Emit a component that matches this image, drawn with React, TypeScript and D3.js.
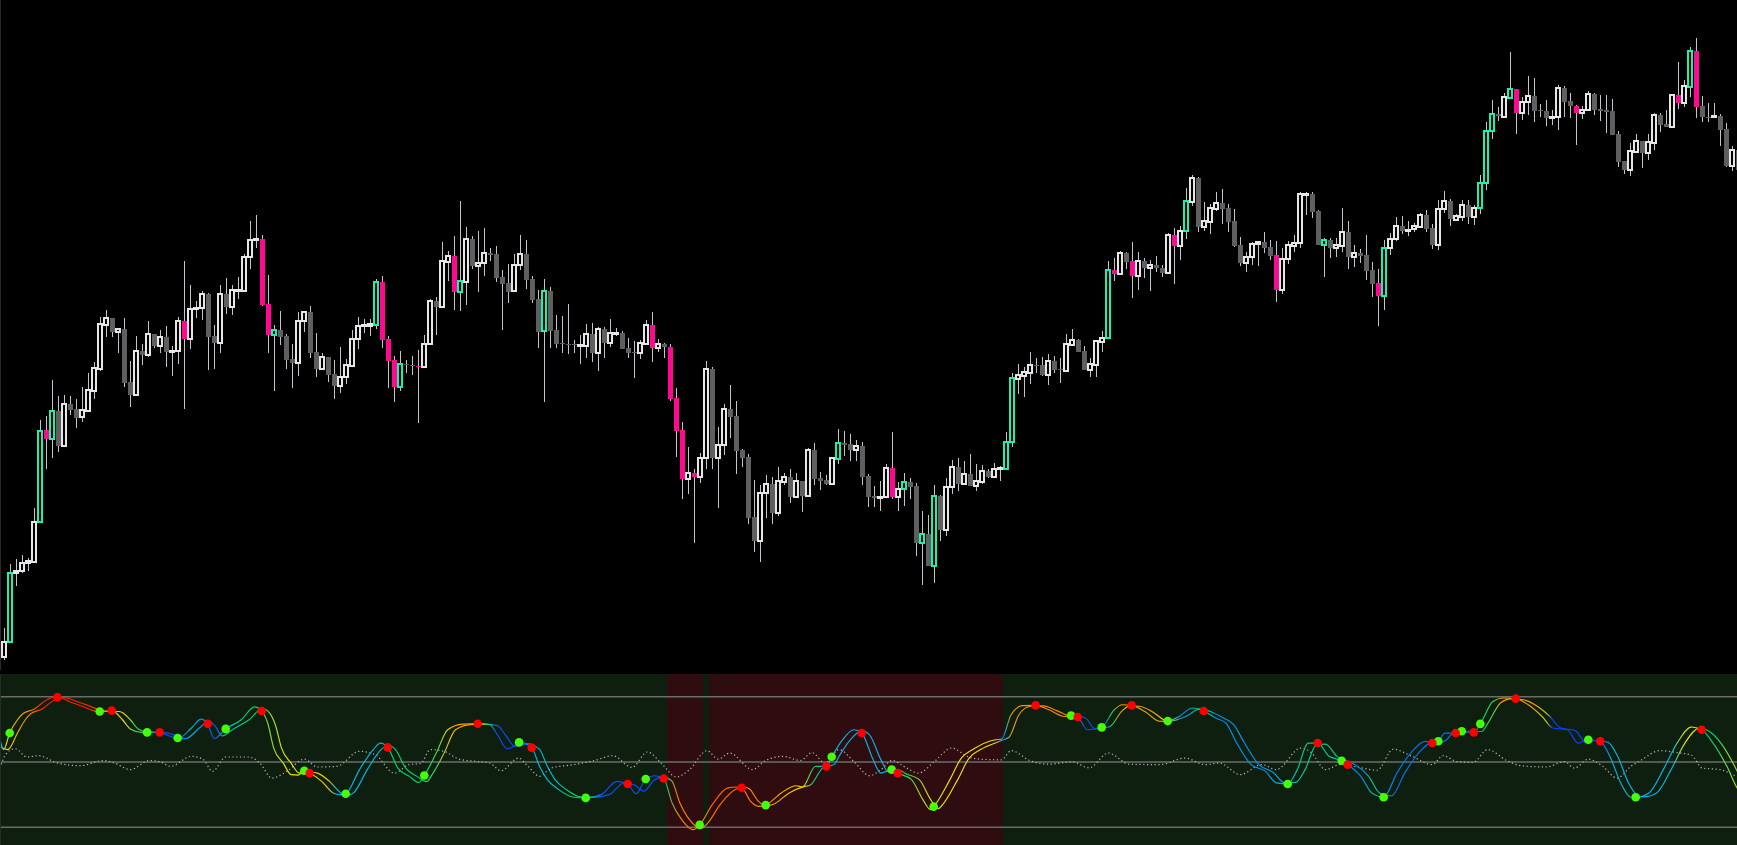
import * as d3 from "d3";

// price candles, one entry per bar (arbitrary price units)
const opens = [
  43, 58, 127, 129, 137, 138, 178, 270, 261, 289, 254, 296, 291, 283, 289, 309, 331, 375, 382, 368,
  371, 318, 305, 349, 345, 366, 354, 363, 349, 349, 379, 361, 391, 392, 406, 364, 357, 406, 393, 410,
  409, 443, 460, 461, 396, 365, 370, 364, 341, 337, 379, 388, 348, 331, 343, 326, 314, 323, 334, 361,
  374, 374, 375, 418, 361, 340, 313, 336, 335, 334, 333, 356, 399, 393, 438, 444, 408, 418, 461, 434,
  437, 447, 446, 423, 417, 409, 435, 446, 421, 401, 369, 409, 370, 357, 356, 356, 354, 354, 366, 347,
  371, 357, 366, 367, 352, 348, 347, 356, 375, 352, 356, 353, 302, 270, 221, 227, 223, 242, 331, 242,
  255, 291, 284, 250, 243, 183, 159, 207, 216, 187, 218, 223, 203, 219, 204, 250, 222, 220, 216, 241,
  257, 256, 250, 254, 224, 204, 202, 203, 232, 203, 211, 218, 214, 157, 166, 134, 204, 170, 213, 233,
  216, 226, 214, 218, 229, 223, 231, 231, 258, 321, 324, 327, 335, 335, 325, 339, 331, 329, 355, 360,
  349, 330, 335, 358, 362, 430, 426, 447, 439, 424, 439, 432, 435, 432, 427, 465, 454, 469, 498, 522,
  473, 478, 491, 497, 492, 479, 455, 437, 443, 456, 458, 453, 445, 410, 441, 454, 457, 506, 506, 489,
  455, 460, 452, 454, 468, 443, 447, 445, 430, 417, 404, 452, 461, 474, 470, 471, 473, 485, 472, 455,
  491, 499, 480, 483, 495, 483, 492, 517, 569, 586, 583, 602, 611, 587, 598, 604, 590, 589, 583, 583,
  612, 599, 594, 587, 590, 606, 591, 590, 589, 566, 539, 530, 548, 559, 547, 557, 585, 576, 573, 605,
  597, 613, 649, 594, 583, 583, 584, 571, 534, 550,
];
const highs = [
  72, 136, 141, 145, 142, 192, 280, 284, 320, 304, 305, 304, 301, 313, 327, 338, 383, 390, 382, 371,
  382, 339, 364, 356, 379, 366, 370, 374, 354, 383, 439, 415, 399, 409, 407, 375, 415, 422, 415, 423,
  446, 479, 485, 465, 425, 375, 389, 366, 356, 388, 389, 394, 367, 347, 343, 340, 353, 341, 370, 383,
  381, 381, 421, 424, 364, 344, 349, 340, 344, 350, 365, 401, 403, 458, 449, 464, 499, 473, 464, 469,
  472, 452, 454, 430, 436, 446, 465, 460, 424, 410, 421, 413, 385, 384, 396, 360, 365, 376, 377, 373,
  373, 381, 372, 369, 362, 359, 360, 380, 388, 361, 357, 356, 312, 278, 253, 231, 247, 339, 333, 273,
  296, 315, 299, 251, 246, 220, 215, 225, 223, 233, 227, 231, 227, 219, 252, 257, 228, 225, 242, 271,
  269, 266, 260, 258, 226, 214, 219, 236, 268, 218, 227, 222, 217, 189, 185, 215, 205, 222, 240, 242,
  239, 246, 236, 235, 231, 237, 234, 268, 327, 336, 333, 348, 342, 343, 346, 344, 342, 366, 371, 361,
  354, 342, 360, 369, 439, 442, 449, 448, 458, 448, 442, 440, 444, 435, 467, 472, 474, 512, 525, 523,
  498, 496, 508, 511, 496, 491, 463, 448, 458, 459, 468, 460, 459, 452, 459, 465, 508, 508, 508, 490,
  462, 462, 462, 492, 479, 455, 451, 465, 438, 431, 460, 467, 483, 484, 479, 477, 487, 490, 476, 500,
  509, 501, 486, 500, 500, 495, 525, 578, 600, 593, 607, 648, 611, 603, 624, 622, 596, 600, 590, 615,
  614, 607, 595, 594, 609, 607, 605, 605, 601, 569, 539, 557, 566, 559, 566, 587, 587, 590, 605, 638,
  620, 653, 662, 604, 597, 597, 586, 577, 554, 555,
];
const lows = [
  40, 58, 114, 127, 129, 137, 178, 231, 242, 248, 253, 285, 272, 278, 289, 301, 329, 363, 363, 347,
  313, 293, 304, 335, 343, 352, 347, 333, 324, 336, 291, 351, 382, 380, 330, 331, 347, 386, 385, 401,
  408, 431, 452, 394, 347, 309, 355, 331, 312, 324, 368, 342, 323, 330, 318, 301, 307, 316, 333, 351,
  367, 364, 371, 352, 312, 298, 309, 327, 325, 277, 332, 356, 365, 393, 419, 390, 389, 395, 431, 408,
  424, 439, 418, 370, 397, 409, 430, 411, 397, 352, 298, 352, 352, 347, 346, 347, 336, 342, 338, 329,
  342, 353, 364, 351, 342, 322, 341, 356, 338, 348, 342, 299, 243, 201, 206, 157, 217, 231, 231, 192,
  245, 262, 226, 233, 176, 148, 138, 182, 176, 184, 215, 197, 203, 188, 203, 215, 210, 215, 216, 236,
  244, 239, 239, 215, 193, 193, 189, 202, 201, 189, 194, 201, 144, 115, 134, 117, 159, 164, 206, 209,
  216, 214, 209, 216, 222, 223, 219, 231, 253, 306, 303, 316, 327, 324, 315, 327, 317, 329, 354, 348,
  330, 323, 323, 348, 361, 419, 425, 431, 402, 410, 422, 409, 428, 423, 427, 416, 440, 461, 494, 468,
  469, 466, 489, 476, 468, 453, 434, 428, 435, 434, 447, 440, 398, 406, 436, 448, 452, 485, 482, 455,
  423, 442, 443, 448, 431, 433, 437, 420, 403, 374, 390, 445, 459, 466, 464, 468, 472, 468, 451, 450,
  487, 474, 479, 479, 476, 475, 486, 510, 561, 579, 583, 602, 566, 580, 585, 578, 583, 574, 575, 570,
  583, 582, 555, 581, 589, 585, 579, 567, 565, 533, 526, 524, 548, 532, 540, 550, 568, 573, 573, 591,
  593, 603, 582, 578, 578, 582, 554, 533, 529, 525,
];
const closes = [
  58, 127, 129, 137, 139, 178, 269, 261, 289, 254, 296, 290, 282, 290, 310, 332, 376, 382, 368, 371,
  317, 305, 349, 345, 366, 354, 363, 348, 349, 379, 361, 391, 392, 406, 363, 357, 406, 393, 410, 410,
  443, 460, 461, 395, 365, 370, 363, 340, 337, 379, 388, 347, 331, 343, 325, 314, 323, 335, 361, 374,
  375, 376, 418, 360, 339, 313, 336, 335, 334, 333, 356, 399, 393, 439, 444, 408, 419, 461, 434, 437,
  447, 445, 422, 416, 408, 435, 446, 420, 400, 368, 409, 369, 356, 356, 355, 355, 355, 366, 347, 371,
  357, 367, 367, 351, 347, 347, 357, 375, 352, 356, 353, 301, 269, 221, 227, 223, 242, 331, 242, 255,
  291, 283, 249, 242, 182, 159, 207, 216, 187, 219, 223, 203, 219, 204, 250, 221, 219, 216, 242, 257,
  255, 250, 254, 223, 203, 202, 203, 232, 203, 211, 218, 213, 157, 166, 134, 204, 170, 213, 233, 216,
  226, 214, 219, 229, 223, 231, 232, 258, 322, 325, 328, 335, 334, 325, 339, 330, 330, 356, 360, 348,
  330, 336, 359, 362, 430, 426, 447, 438, 424, 439, 432, 435, 432, 427, 465, 454, 469, 499, 522, 473,
  479, 492, 497, 491, 478, 454, 437, 443, 456, 458, 452, 444, 410, 441, 455, 457, 506, 506, 488, 455,
  460, 452, 455, 468, 443, 447, 444, 429, 416, 404, 452, 461, 474, 469, 470, 474, 485, 471, 455, 491,
  499, 481, 484, 495, 483, 492, 517, 569, 586, 584, 603, 611, 587, 598, 604, 589, 589, 582, 583, 612,
  598, 594, 587, 590, 606, 590, 589, 588, 565, 538, 530, 549, 559, 547, 558, 585, 575, 573, 605, 597,
  614, 649, 593, 583, 582, 584, 570, 534, 550, 530,
];
const strongUp = [1, 6, 8, 45, 62, 66, 76, 90, 139, 150, 153, 155, 167, 168, 184, 197, 220, 230, 246, 247, 248, 251, 281];
const strongDown = [7, 30, 43, 44, 63, 64, 65, 69, 75, 108, 111, 112, 113, 115, 148, 185, 188, 195, 212, 229, 252, 262, 279, 282];

// bars where the oscillator pane is shaded red
const bearishRuns = [[111, 116], [118, 166]];

// oscillator, [bar index, value]
const oscLevels = [20, 50, 80];
const fastLine = [
  [-0.7, 60.2], [-0.1, 55.7], [0.9, 63.3], [2.2, 69.4], [3.1, 72.2], [5.0, 74.3], [6.9, 78.3], [8.7, 80.0],
  [10.8, 77.8], [13.3, 75.3], [15.5, 73.2], [17.9, 73.6], [19.7, 69.4], [21.0, 65.2], [22.9, 63.6], [25.4, 63.8],
  [27.3, 62.2], [28.9, 60.7], [31.2, 65.6], [32.8, 69.7], [33.9, 67.4], [35.0, 60.7], [36.9, 65.2], [39.5, 69.4],
  [41.7, 75.3], [42.9, 73.4], [43.9, 67.9], [44.9, 56.4], [46.5, 49.5], [47.8, 44.2], [49.0, 44.0], [50.0, 46.0],
  [50.9, 44.9], [52.9, 41.1], [54.8, 35.8], [56.0, 35.0], [56.9, 35.4], [59.2, 46.5], [61.5, 55.7], [62.7, 58.7],
  [63.9, 56.7], [65.6, 47.2], [67.5, 43.4], [69.1, 40.6], [70.0, 43.8], [72.0, 54.1], [73.9, 64.8], [76.4, 67.4],
  [78.9, 67.6], [80.9, 67.1], [82.2, 62.5], [83.8, 56.1], [85.1, 57.5], [85.8, 59.0], [87.9, 56.6], [89.2, 48.0],
  [90.5, 41.9], [92.4, 37.3], [94.9, 33.8], [96.9, 33.5], [99.5, 35.0], [102.1, 41.1], [103.9, 39.9], [105.3, 35.4],
  [106.9, 42.2], [108.4, 43.7], [109.9, 42.4], [111.3, 31.2], [112.9, 23.5], [114.8, 18.9], [115.9, 21.1], [118.0, 30.4],
  [120.6, 38.1], [122.2, 38.5], [122.9, 38.2], [124.4, 31.9], [125.7, 29.6], [126.9, 30.2], [129.5, 35.8], [132.0, 39.1],
  [133.0, 38.5], [135.2, 48.0], [137.0, 48.0], [137.9, 52.4], [139.7, 60.2], [141.6, 64.8], [142.9, 63.3], [144.8, 51.1],
  [146.1, 44.9], [147.9, 46.5], [148.9, 44.9], [151.2, 41.9], [153.1, 32.7], [154.4, 28.1], [154.9, 29.5], [157.6, 41.9],
  [159.5, 51.8], [161.4, 55.7], [165.2, 60.2], [166.2, 60.5], [167.8, 71.7], [169.7, 75.9], [171.9, 76.0], [174.1, 74.0],
  [176.7, 70.9], [177.8, 71.3], [178.9, 70.7], [180.5, 64.8], [182.9, 65.9], [185.0, 74.0], [186.3, 76.3], [187.9, 76.0],
  [190.1, 73.2], [192.6, 68.7], [193.9, 68.8], [195.8, 70.9], [198.0, 74.8], [199.9, 73.4], [201.9, 70.2], [203.6, 67.9],
  [205.4, 58.7], [207.8, 48.8], [210.2, 45.7], [212.0, 40.4], [213.9, 39.9], [215.5, 46.5], [217.3, 58.7], [218.9, 58.7],
  [220.8, 52.6], [222.9, 50.6], [223.9, 48.8], [226.1, 43.4], [227.9, 35.8], [229.9, 33.8], [232.1, 44.9], [234.4, 54.1],
  [236.8, 59.5], [238.0, 58.7], [239.0, 59.5], [240.1, 63.3], [241.9, 63.3], [242.9, 64.1], [244.9, 63.6], [246.0, 67.5],
  [248.1, 77.8], [249.8, 79.4], [251.9, 79.1], [254.0, 76.3], [256.3, 70.9], [258.1, 65.6], [260.5, 64.8], [262.3, 58.7],
  [264.0, 60.2], [266.0, 59.5], [267.6, 52.6], [269.4, 40.4], [271.1, 33.8], [271.9, 33.8], [274.1, 35.8], [276.5, 46.5],
  [278.8, 58.7], [281.2, 66.1], [282.9, 64.8], [284.8, 58.7], [287.1, 48.0], [288.8, 38.1], [290.0, 34.0],
];
const slowLine = [
  [-0.7, 57.0], [0.6, 55.7], [2.2, 63.3], [3.5, 69.4], [4.4, 72.2], [6.3, 74.3], [8.2, 78.3], [10.0, 79.6],
  [12.1, 77.8], [14.6, 75.3], [16.8, 73.2], [19.2, 73.2], [21.0, 69.4], [22.3, 65.2], [24.2, 63.6], [26.7, 63.5],
  [28.6, 62.2], [30.2, 60.7], [32.5, 65.6], [34.1, 68.8], [35.2, 66.2], [36.3, 62.0], [38.2, 65.2], [40.8, 69.4],
  [43.0, 74.6], [44.2, 72.6], [45.2, 66.9], [46.2, 56.4], [47.8, 49.5], [49.1, 45.0], [50.3, 44.6], [51.3, 45.3],
  [52.2, 44.9], [54.2, 41.1], [56.1, 35.8], [57.3, 34.8], [58.2, 35.8], [60.5, 46.5], [62.8, 55.7], [64.0, 57.8],
  [65.2, 55.7], [66.9, 47.2], [68.8, 43.4], [70.4, 41.0], [71.3, 44.2], [73.3, 54.1], [75.2, 64.8], [77.7, 67.2],
  [80.2, 67.4], [82.2, 66.7], [83.5, 62.5], [85.1, 57.2], [86.4, 57.8], [87.1, 58.5], [89.2, 55.8], [90.5, 48.0],
  [91.8, 41.9], [93.7, 37.3], [96.2, 33.9], [98.2, 33.8], [100.8, 35.0], [103.4, 40.6], [105.2, 39.2], [106.6, 36.6],
  [108.2, 41.4], [109.7, 43.2], [111.2, 41.5], [112.6, 31.2], [114.2, 23.5], [116.1, 19.5], [117.2, 21.8], [119.3, 30.4],
  [121.9, 37.5], [123.5, 38.4], [124.2, 37.6], [125.7, 31.9], [127.0, 29.9], [128.2, 30.6], [130.8, 35.8], [133.3, 38.7],
  [134.3, 39.3], [136.5, 47.5], [138.3, 48.8], [139.2, 53.0], [141.0, 60.2], [142.9, 64.3], [144.2, 62.5], [146.1, 51.1],
  [147.4, 45.4], [149.2, 46.2], [150.2, 44.7], [152.5, 41.9], [154.4, 32.7], [155.7, 28.6], [156.2, 29.8], [158.9, 41.9],
  [160.8, 51.8], [162.7, 55.7], [166.5, 60.2], [167.5, 61.5], [169.1, 71.7], [171.0, 75.6], [173.2, 75.8], [175.4, 73.6],
  [178.0, 70.9], [179.1, 71.0], [180.2, 70.2], [181.8, 65.3], [184.2, 66.2], [186.3, 73.5], [187.6, 75.8], [189.2, 75.6],
  [191.4, 73.0], [193.9, 68.8], [195.2, 69.2], [197.1, 71.2], [199.3, 74.4], [201.2, 73.0], [203.2, 70.2], [204.9, 67.2],
  [206.7, 58.7], [209.1, 48.8], [211.5, 45.2], [213.3, 40.6], [215.2, 40.6], [216.8, 46.5], [218.6, 57.6], [220.2, 58.2],
  [222.1, 52.6], [224.2, 50.0], [225.2, 48.6], [227.4, 43.4], [229.2, 35.8], [231.2, 34.4], [233.4, 44.9], [235.7, 54.1],
  [238.1, 59.0], [239.3, 59.0], [240.3, 60.0], [241.4, 63.0], [243.2, 63.6], [244.2, 64.0], [246.2, 64.0], [247.3, 68.0],
  [249.4, 77.2], [251.1, 79.0], [253.2, 78.6], [255.3, 76.0], [257.6, 70.9], [259.4, 65.6], [261.8, 64.5], [263.6, 59.0],
  [265.3, 59.9], [267.3, 59.0], [268.9, 52.6], [270.7, 40.4], [272.4, 34.2], [273.2, 34.0], [275.4, 35.8], [277.8, 46.5],
  [280.1, 58.7], [282.5, 65.5], [284.2, 64.0], [286.1, 58.7], [288.4, 48.0], [290.1, 38.1],
];
const signalLine = [
  [-0.7, 47.2], [0.2, 53.4], [1.8, 56.1], [3.8, 52.3], [5.7, 52.9], [8.9, 49.5], [12.7, 48.3], [16.5, 50.7],
  [18.4, 49.5], [21.0, 46.5], [24.2, 50.7], [26.1, 50.0], [27.7, 48.0], [31.2, 52.6], [33.1, 51.3], [34.7, 45.7],
  [36.9, 52.3], [40.7, 52.3], [42.6, 49.5], [44.6, 42.6], [47.1, 45.7], [50.0, 51.3], [52.2, 47.7], [55.4, 48.0],
  [59.2, 54.9], [61.8, 53.4], [65.0, 44.9], [67.5, 48.8], [69.4, 49.3], [71.0, 55.7], [73.3, 54.9], [75.8, 51.3],
  [79.0, 50.2], [80.9, 49.5], [82.8, 46.0], [85.7, 51.8], [87.3, 48.0], [89.2, 43.4], [91.1, 47.2], [94.9, 48.8],
  [98.5, 50.8], [101.4, 52.9], [104.6, 47.5], [107.2, 54.6], [109.7, 48.8], [112.0, 43.1], [114.2, 46.5], [117.1, 55.2],
  [119.0, 51.3], [120.9, 54.1], [124.7, 46.5], [126.9, 50.7], [129.8, 52.6], [132.7, 50.7], [134.6, 54.3], [136.8, 49.5],
  [139.1, 55.7], [141.6, 50.2], [144.2, 43.7], [146.1, 46.5], [148.0, 50.7], [149.9, 48.0], [152.4, 44.9], [155.0, 50.2],
  [157.9, 56.4], [160.7, 52.3], [162.7, 51.3], [166.2, 51.0], [167.8, 55.2], [170.9, 50.7], [174.1, 49.0], [178.0, 50.1],
  [180.8, 47.3], [184.0, 54.1], [187.5, 49.0], [192.6, 48.8], [196.8, 51.8], [200.1, 48.8], [202.5, 49.5], [206.0, 44.2],
  [209.6, 48.8], [212.0, 46.5], [216.1, 56.4], [217.9, 54.1], [220.2, 46.5], [222.6, 48.8], [225.5, 47.7], [228.8, 46.2],
  [231.5, 55.9], [234.4, 52.9], [238.0, 48.8], [239.8, 52.9], [242.1, 50.2], [244.8, 49.8], [247.2, 55.7], [250.4, 50.7],
  [252.8, 48.3], [257.0, 47.7], [260.0, 50.2], [261.7, 47.2], [264.0, 51.3], [266.4, 48.0], [268.8, 42.6], [271.1, 48.0],
  [272.9, 51.0], [275.9, 55.2], [278.8, 54.3], [281.2, 53.1], [283.0, 47.2], [286.0, 46.5], [288.8, 43.4], [290.0, 42.5],
];
// line colour along the bars: 0 blue .. 1 red
const hueKnots = [
  [-0.7, 0.2], [0.3, 0.6], [2, 0.7], [4, 0.8], [7, 1.0], [14, 1.0], [16, 0.8], [20, 0.6], [22, 0.45], [24.5, 0.35],
  [25.5, 0.05], [29, 0.05], [31, 0.2], [33, 0.15], [35, 0.05], [37, 0.3], [41.7, 0.4], [44, 0.5], [47, 0.6], [50, 0.6],
  [52, 0.65], [54, 0.65], [55.5, 0.2], [62, 0.2], [63.5, 0.3], [65, 0.4], [70, 0.4], [72, 0.45], [74, 0.65], [76, 0.75],
  [79, 0.75], [80.5, 0.45], [82, 0.05], [86, 0.05], [88, 0.2], [92, 0.25], [94, 0.4], [97, 0.4], [99, 0.12], [100, 0.05],
  [109, 0.05], [110.5, 0.4], [112.5, 0.8], [116, 0.8], [118, 0.85], [122, 0.85], [124, 0.8], [127, 0.8], [130, 0.7], [133, 0.65],
  [135, 0.4], [137, 0.25], [139, 0.2], [147, 0.2], [149, 0.4], [151, 0.45], [153, 0.55], [157, 0.6], [165, 0.6], [166.5, 0.15],
  [168, 0.75], [172, 0.8], [178, 0.8], [180, 0.05], [183, 0.05], [184.5, 0.4], [186, 0.75], [190, 0.75], [192, 0.7], [194, 0.6],
  [196, 0.15], [197.5, 0.15], [199, 0.4], [200.5, 0.4], [202, 0.15], [210, 0.15], [213, 0.2], [216, 0.35], [222, 0.35], [224, 0.12],
  [226, 0.12], [228, 0.35], [230, 0.2], [232, 0.1], [245, 0.1], [246.5, 0.4], [248, 0.45], [249.5, 0.75], [255, 0.75], [257, 0.55],
  [258, 0.02], [266, 0.05], [268, 0.2], [278, 0.2], [280, 0.6], [281.5, 0.6], [283, 0.4], [285, 0.4], [287, 0.5], [290, 0.55],
];
const bullCrosses = [
  [0.9, 63.3], [15.9, 73.2], [23.8, 63.6], [28.9, 61.0], [36.9, 65.2], [50.0, 46.0], [56.9, 35.4], [70.0, 43.8],
  [85.8, 59.0], [96.9, 33.5], [106.9, 42.2], [115.9, 21.1], [126.9, 30.2], [137.9, 52.4], [147.9, 46.5], [154.9, 29.5],
  [177.8, 71.3], [182.9, 65.9], [193.9, 68.8], [213.9, 39.9], [222.9, 50.6], [229.9, 33.8], [239.0, 59.5], [242.9, 64.1],
  [246.0, 67.5], [264.0, 60.2], [271.9, 33.8],
];
const bearCrosses = [
  [8.85, 79.7], [17.9, 73.6], [25.9, 63.6], [33.9, 67.6], [42.9, 73.4], [50.9, 44.9], [63.9, 56.7], [78.9, 67.6],
  [87.9, 56.6], [103.9, 39.9], [109.9, 42.4], [122.9, 38.2], [137.0, 48.0], [142.9, 63.3], [148.9, 44.9], [171.9, 76.0],
  [178.9, 70.7], [187.9, 76.0], [199.9, 73.4], [218.9, 58.7], [223.9, 48.8], [238.0, 58.7], [241.9, 63.3], [244.9, 63.6],
  [251.9, 79.1], [266.0, 59.5], [282.9, 64.8],
];

const W = 1737;
const H = 845;
const PRICE_BOTTOM = 670;
const OSC_TOP = 674;

export default function App() {
  const n = closes.length;
  const x = d3.scaleLinear().domain([0, n - 1]).range([4.3, 4.3 + 6 * (n - 1)]);
  const y = d3.scaleLinear().domain([0, 700]).range([700, 0]);
  const yo = d3.scaleLinear().domain([20, 80]).range([827.3, 696.7]);

  const hue = d3
    .scaleLinear<string>()
    .domain([0, 0.2, 0.4, 0.6, 0.8, 1])
    .range(["#0a2cff", "#00b4e8", "#00d26a", "#e8e400", "#ff8200", "#ff1e00"]);

  const line = d3
    .line<number[]>()
    .x((d) => x(d[0]))
    .y((d) => yo(d[1]))
    .curve(d3.curveMonotoneX);

  const gx1 = x(-1);
  const gx2 = x(n + 1);

  const isUp = new Set(strongUp);
  const isDown = new Set(strongDown);

  return (
    <div style={{ position: "fixed", left: 0, top: 0, width: W, height: H, background: "#000" }}>
      <svg width={W} height={H} style={{ display: "block" }}>
        <defs>
          <linearGradient id="oscHue" gradientUnits="userSpaceOnUse" x1={gx1} y1={0} x2={gx2} y2={0}>
            {hueKnots.map(([i, c], k) => (
              <stop key={k} offset={(x(i) - gx1) / (gx2 - gx1)} stopColor={hue(c)} />
            ))}
          </linearGradient>
          <clipPath id="oscClip">
            <rect x={0} y={OSC_TOP} width={W} height={H - OSC_TOP} />
          </clipPath>
        </defs>

        <rect x={0} y={0} width={W} height={H} fill="#000" />

        {/* oscillator pane background */}
        <rect x={0} y={OSC_TOP} width={W} height={H - OSC_TOP} fill="#0e1f10" />
        {bearishRuns.map(([a, b], k) => (
          <rect
            key={k}
            x={x(a) - 3}
            y={OSC_TOP}
            width={x(b) - x(a) + 6}
            height={H - OSC_TOP}
            fill="#2f0c10"
            shapeRendering="crispEdges"
          />
        ))}
        {oscLevels.map((lv) => (
          <line key={lv} x1={0} x2={W} y1={yo(lv)} y2={yo(lv)} stroke="#6a6c6a" strokeWidth={1.6} />
        ))}

        <g clipPath="url(#oscClip)">
          <path
            d={line(signalLine) || ""}
            fill="none"
            stroke="#b8b8b8"
            strokeWidth={1.2}
            strokeDasharray="1.2 2.6"
          />
          <path d={line(slowLine) || ""} fill="none" stroke="url(#oscHue)" strokeWidth={1.15} />
          <path d={line(fastLine) || ""} fill="none" stroke="url(#oscHue)" strokeWidth={1.15} />
          {bullCrosses.map(([i, v], k) => (
            <circle key={"g" + k} cx={x(i)} cy={yo(v)} r={4.3} fill="#44ff0a" />
          ))}
          {bearCrosses.map(([i, v], k) => (
            <circle key={"r" + k} cx={x(i)} cy={yo(v)} r={4.3} fill="#ff0000" />
          ))}
        </g>

        {/* candles */}
        <g shapeRendering="crispEdges">
          {closes.map((c, i) => {
            const o = opens[i];
            const up = c >= o;
            const cx = Math.round(x(i));
            const top = y(Math.max(o, c));
            const bot = y(Math.min(o, c));
            const h = Math.max(bot - top, 1);
            let body;
            if (up) {
              body = (
                <rect
                  x={cx - 2}
                  y={top}
                  width={4}
                  height={h}
                  fill="#000"
                  stroke={isUp.has(i) ? "#17f2b2" : "#e6e6e6"}
                  strokeWidth={1.2}
                />
              );
            } else {
              body = (
                <rect
                  x={cx - 2.5}
                  y={top}
                  width={5}
                  height={h}
                  fill={isDown.has(i) ? "#ff0a8e" : "#5f5f5f"}
                />
              );
            }
            return (
              <g key={i}>
                <line x1={cx} x2={cx} y1={y(highs[i])} y2={y(lows[i])} stroke="#c4c4cc" strokeWidth={1} />
                {body}
              </g>
            );
          })}
        </g>

        <line x1={0.5} x2={0.5} y1={0} y2={PRICE_BOTTOM} stroke="#2a2a2a" strokeWidth={1} />
        <line x1={0.5} x2={0.5} y1={OSC_TOP} y2={H} stroke="#2a2a2a" strokeWidth={1} />
      </svg>
    </div>
  );
}
